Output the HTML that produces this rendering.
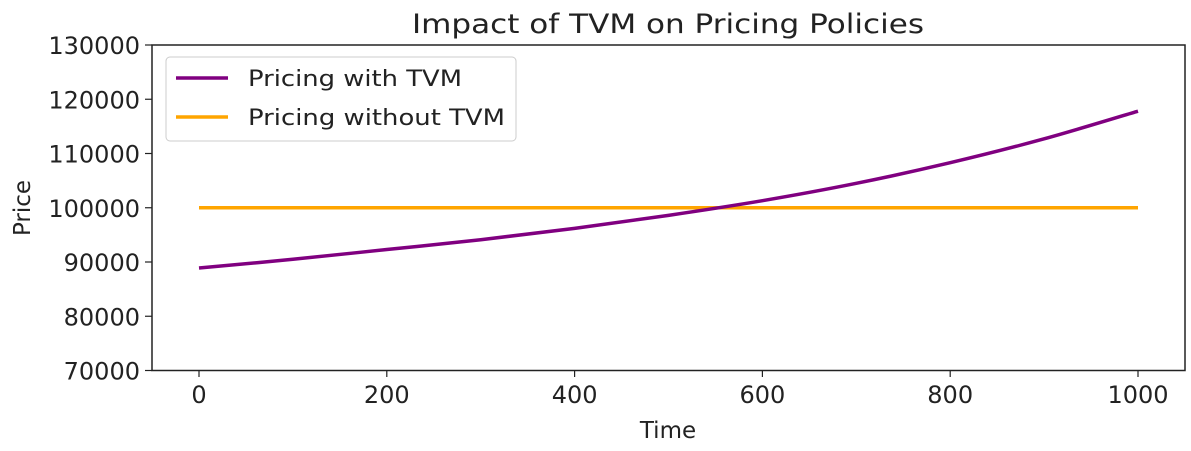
<!DOCTYPE html>
<html><head><meta charset="utf-8"><style>
body{margin:0;background:#fff;font-family:"DejaVu Sans",sans-serif}
svg text{font-family:"DejaVu Sans",sans-serif;fill:#222}
</style></head><body>
<svg id="chart" width="1191" height="447" xmlns="http://www.w3.org/2000/svg">
<text x="668" y="33" font-size="27" textLength="512" lengthAdjust="spacingAndGlyphs" text-anchor="middle">Impact of TVM on Pricing Policies</text>
<rect x="152" y="45" width="1033" height="325.5" fill="none" stroke="#222" stroke-width="1.5"/>
<g id="ticks"></g>
<g id="series"></g>
<text x="668" y="438" font-size="23" text-anchor="middle">Time</text>
<text x="0" y="0" font-size="23" text-anchor="middle" transform="translate(30,208) rotate(-90)">Price</text>
<g>
<rect x="166" y="57" width="350" height="84" rx="4" fill="#fff" fill-opacity="0.8" stroke="#ccc"/>
<line x1="176" y1="78" x2="228" y2="78" stroke="#800080" stroke-width="3.5"/>
<text x="248" y="86" font-size="22" textLength="214" lengthAdjust="spacingAndGlyphs">Pricing with TVM</text>
<line x1="176" y1="117" x2="228" y2="117" stroke="#ffa500" stroke-width="3.5"/>
<text x="248" y="125" font-size="22" textLength="257" lengthAdjust="spacingAndGlyphs">Pricing without TVM</text>
</g>
</svg>
<script>
const times=[0,100,200,300,400,500,600,700,800,900,1000];
const withTVM=[88900,90500,92300,94100,96200,98600,101300,104500,108300,112700,117800];
const withoutTVM=[100000,100000,100000,100000,100000,100000,100000,100000,100000,100000,100000];
const xTicks=[0,200,400,600,800,1000];
const yTicks=[70000,80000,90000,100000,110000,120000,130000];
const NS="http://www.w3.org/2000/svg";
const xs=v=>199+(v/1000)*939;
const ys=v=>370.5-(v-70000)/60000*325.5;
const tk=document.getElementById('ticks');
function mk(tag,attrs,parent){const e=document.createElementNS(NS,tag);for(const k in attrs)e.setAttribute(k,attrs[k]);parent.appendChild(e);return e;}
xTicks.forEach(t=>{
 const l=mk('line',{x1:xs(t),x2:xs(t),y1:370.5,y2:377,stroke:'#222','stroke-width':1.2},tk);
 
 
 const tx=mk('text',{x:xs(t),y:403,'font-size':24,'text-anchor':'middle'},tk);
 tx.textContent=t;
 
 
});
yTicks.forEach(t=>{
 const l=mk('line',{x1:145,x2:152,y1:ys(t),y2:ys(t),stroke:'#222','stroke-width':1.2},tk);
 
 
 const tx=mk('text',{x:140,y:ys(t)+9,'font-size':24,'text-anchor':'end'},tk);
 tx.textContent=t;
 
 
});
function path(vals){
 const p=times.map((t,i)=>[xs(t),ys(vals[i])]);
 let d='M'+p[0][0]+','+p[0][1];
 for(let i=0;i<p.length-1;i++){
  const p0=p[Math.max(0,i-1)],p1=p[i],p2=p[i+1],p3=p[Math.min(p.length-1,i+2)];
  const c1=[p1[0]+(p2[0]-p0[0])/6,p1[1]+(p2[1]-p0[1])/6];
  const c2=[p2[0]-(p3[0]-p1[0])/6,p2[1]-(p3[1]-p1[1])/6];
  d+=` C${c1[0]},${c1[1]} ${c2[0]},${c2[1]} ${p2[0]},${p2[1]}`;
 }
 return d;
}
const sg=document.getElementById('series');
const s2=mk('path',{d:path(withoutTVM),fill:'none',stroke:'#ffa500','stroke-width':3.5},sg);


const s1=mk('path',{d:path(withTVM),fill:'none',stroke:'#800080','stroke-width':3.5},sg);


</script>
</body></html>
